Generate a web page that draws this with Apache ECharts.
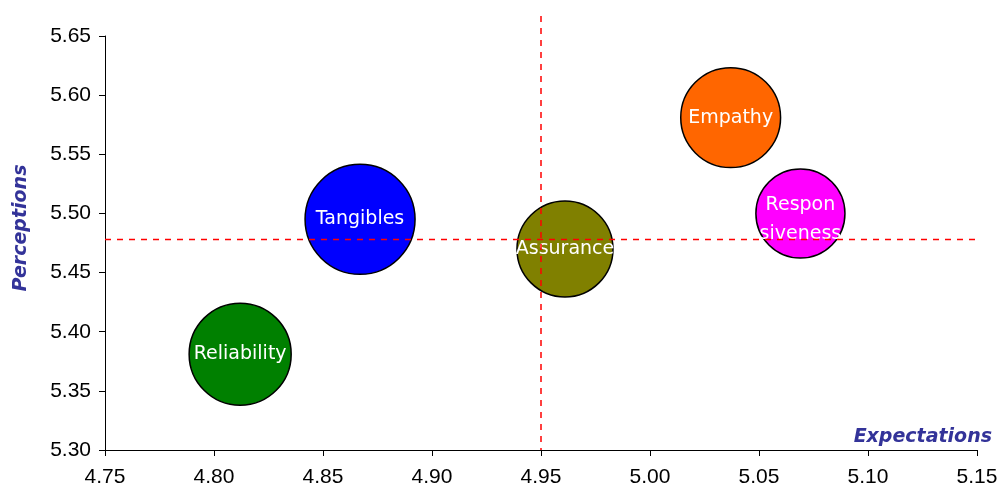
<!DOCTYPE html>
<html>
<head>
<meta charset="utf-8">
<script src="https://cdn.jsdelivr.net/npm/echarts@6/dist/echarts.min.js"></script>
<style>
  html, body { margin: 0; padding: 0; background: #ffffff; }
  #chart { width: 1000px; height: 492px; }
</style>
</head>
<body>
<div id="chart"></div>
<script>
// ---- data ----
const dimensions   = ['Reliability', 'Tangibles', 'Assurance', 'Empathy', 'Responsiveness'];
const expectations = [4.812, 4.867, 4.961, 5.037, 5.069];
const perceptions  = [5.381, 5.495, 5.470, 5.581, 5.500];
const weights      = [21.0, 24.4, 18.6, 20.1, 16.0];   // bubble size (importance, %)
const meanExpectation = 4.95;
const meanPerception  = 5.478;
const xTicks = [4.75, 4.80, 4.85, 4.90, 4.95, 5.00, 5.05, 5.10, 5.15];
const yTicks = [5.30, 5.35, 5.40, 5.45, 5.50, 5.55, 5.60, 5.65];

// ---- styles ----
const bubbleColors = ['#008000', '#0000FF', '#808000', '#FF6600', '#FF00FF'];
const maxWeight = Math.max(...weights);

const bubbleData = dimensions.map((n, i) => ({
  name: n,
  value: [expectations[i], perceptions[i], weights[i]],
  itemStyle: { color: bubbleColors[i] },
  label: n === 'Responsiveness' ? { offset: [0, 6] } : undefined
}));

const chart = echarts.init(document.getElementById('chart'), null, { renderer: 'canvas' });
chart.setOption({
  animation: false,
  backgroundColor: '#ffffff',
  grid: { left: 105, right: 23, top: 36, bottom: 42, containLabel: false, outerBoundsMode: 'none' },
  xAxis: {
    type: 'value',
    min: xTicks[0], max: xTicks[xTicks.length - 1], interval: 0.05,
    name: 'Expectations',
    nameLocation: 'end',
    nameGap: 15,
    nameTextStyle: {
      fontFamily: 'DejaVu Sans', fontWeight: 'bold', fontStyle: 'italic',
      fontSize: 19, color: '#333399', align: 'right', verticalAlign: 'bottom',
      padding: [0, 0, 3, 0]
    },
    axisLine: { lineStyle: { color: '#000000', width: 1 } },
    axisTick: { show: true, inside: false, length: 6, lineStyle: { color: '#000000' } },
    axisLabel: {
      fontFamily: 'Liberation Sans', fontSize: 21, color: '#000000', margin: 17,
      formatter: v => v.toFixed(2)
    },
    splitLine: { show: false }
  },
  yAxis: {
    type: 'value',
    min: yTicks[0], max: yTicks[yTicks.length - 1], interval: 0.05,
    name: 'Perceptions',
    nameLocation: 'middle',
    nameGap: 74,
    nameTextStyle: {
      fontFamily: 'DejaVu Sans', fontWeight: 'bold', fontStyle: 'italic',
      fontSize: 19, color: '#333399', padding: [0, 0, 0, 30]
    },
    axisLine: { show: true, lineStyle: { color: '#000000', width: 1 } },
    axisTick: { show: true, inside: false, length: 6, lineStyle: { color: '#000000' } },
    axisLabel: {
      fontFamily: 'Liberation Sans', fontSize: 21, color: '#000000', margin: 14,
      formatter: v => v.toFixed(2)
    },
    splitLine: { show: false }
  },
  series: [
    {
      type: 'scatter',
      z: 2,
      data: bubbleData,
      symbol: 'circle',
      symbolSize: v => 110 * Math.sqrt(v[2] / maxWeight),
      itemStyle: { borderColor: '#000000', borderWidth: 1.5, opacity: 1 },
      label: {
        show: true,
        position: 'inside',
        fontFamily: 'DejaVu Sans',
        fontSize: 19,
        lineHeight: 29,
        color: '#ffffff',
        formatter: p => p.name === 'Responsiveness' ? 'Respon\nsiveness' : p.name
      },
      emphasis: { disabled: true }
    },
    {
      type: 'line',
      z: 3,
      clip: false,
      silent: true,
      symbol: 'none',
      data: [[xTicks[0], meanPerception], [5.153, meanPerception]],
      lineStyle: { color: '#FF0000', width: 1.5, type: [6, 6] }
    },
    {
      type: 'line',
      z: 3,
      clip: false,
      silent: true,
      symbol: 'none',
      data: [[meanExpectation, 5.667], [meanExpectation, yTicks[0]]],
      lineStyle: { color: '#FF0000', width: 1.5, type: [6, 6] }
    }
  ]
});
</script>
</body>
</html>
